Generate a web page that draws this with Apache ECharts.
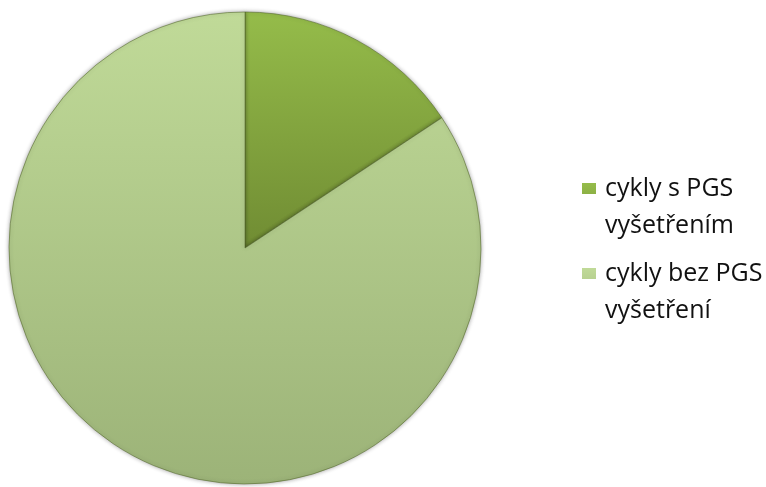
<!DOCTYPE html>
<html>
<head>
<meta charset="utf-8">
<script src="https://cdn.jsdelivr.net/npm/echarts@6/dist/echarts.min.js"></script>
<style>
html,body{margin:0;padding:0;background:#fff;}
#chart{width:766px;height:487px;}
</style>
</head>
<body>
<div id="chart"></div>
<script>
const categories = ['cykly s PGS\nvyšetřením', 'cykly bez PGS\nvyšetření'];
const values = [15.7, 84.3];
const sliceColors = [
  ['#95bc4a', '#708c33'],
  ['#c0da98', '#9cb378']
];

const chart = echarts.init(document.getElementById('chart'));
const data = categories.map((name, i) => ({
  name: name,
  value: values[i],
  itemStyle: {
    color: new echarts.graphic.LinearGradient(0, 0, 0, 1, [
      { offset: 0, color: sliceColors[i][0] },
      { offset: 1, color: sliceColors[i][1] }
    ])
  }
}));

// legend marker: 14x11 square at top, with an invisible extent so text sits beside first line
const legendIcon = 'path://M0,0H14V11H0ZM18,48L18,48';

chart.setOption({
  backgroundColor: '#ffffff',
  animation: false,
  legend: {
    orient: 'vertical',
    left: 582,
    top: 170,
    padding: 0,
    itemWidth: 18,
    itemHeight: 48,
    itemGap: 11,
    icon: legendIcon,
    itemStyle: { borderWidth: 0, shadowBlur: 0 },
    data: categories.map((name, i) => ({
      name: name,
      itemStyle: {
        color: new echarts.graphic.LinearGradient(0, 0, 0, 1, [
          { offset: 0, color: sliceColors[i][0] },
          { offset: 1, color: sliceColors[i][1] }
        ]),
        borderWidth: 0
      }
    })),
    textStyle: {
      fontFamily: 'Open Sans',
      fontSize: 25,
      lineHeight: 37,
      color: '#111'
    }
  },
  series: [{
    type: 'pie',
    center: [245, 248],
    radius: 236,
    startAngle: 90,
    clockwise: true,
    label: { show: false },
    labelLine: { show: false },
    emphasis: { disabled: true },
    itemStyle: {
      borderColor: 'rgba(80,100,40,0.55)',
      borderWidth: 1,
      shadowBlur: 4,
      shadowColor: 'rgba(0,0,0,0.35)'
    },
    data: data
  }]
});
</script>
</body>
</html>
